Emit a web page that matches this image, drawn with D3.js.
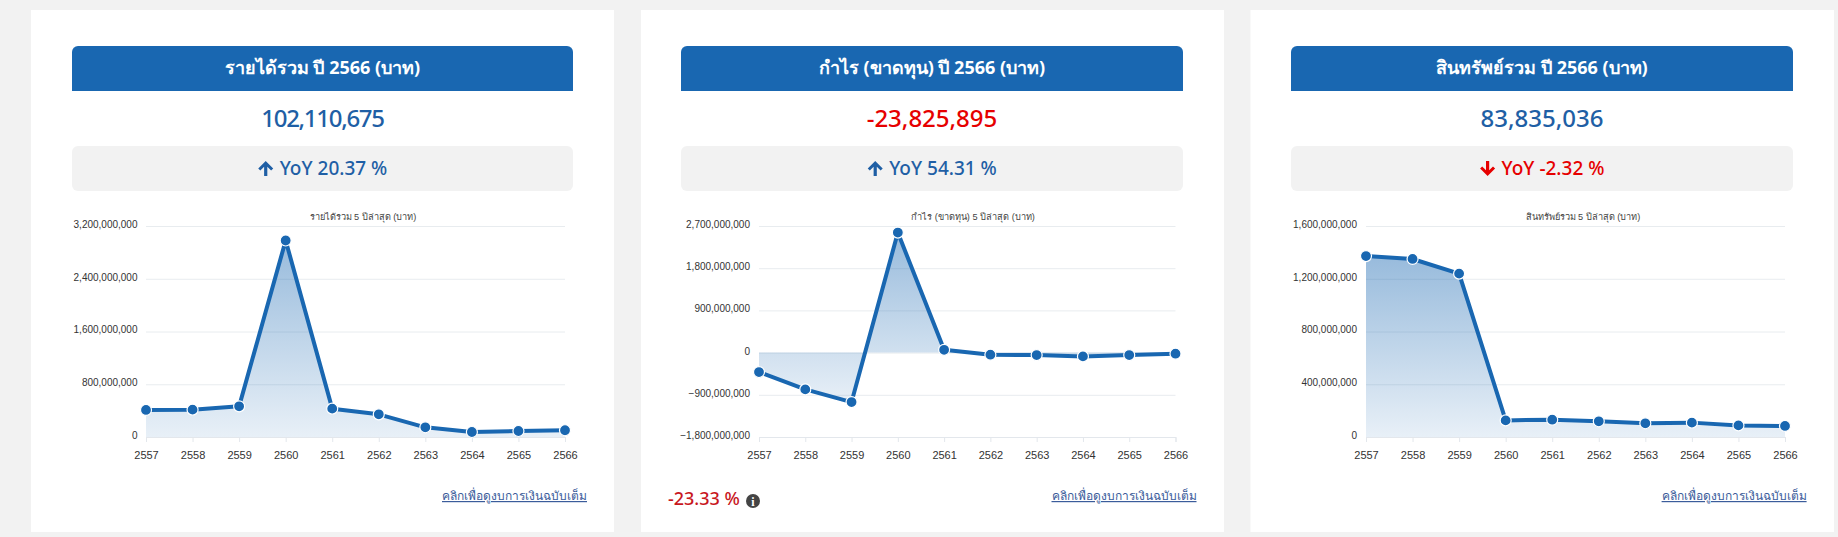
<!DOCTYPE html>
<html><head><meta charset="utf-8">
<script src="https://cdn.jsdelivr.net/npm/d3@7/dist/d3.min.js"></script>
<style>
html,body{margin:0;padding:0;background:#f2f2f2;overflow:hidden}
svg{display:block}
.head{font-family:"Noto Sans","Noto Sans CJK SC",sans-serif;font-weight:700;font-size:18px;fill:#fff}
.big{font-family:"Noto Sans",sans-serif;font-weight:500;font-size:24px}
.yoy{font-family:"Noto Sans",sans-serif;font-weight:500;font-size:19px}
.ctitle{font-family:"Liberation Sans",sans-serif;font-size:9.2px;fill:#444}
.yl .tick text{font-family:"Liberation Sans",Arial,sans-serif;font-size:10px;fill:#333}
.xl .tick text{font-family:"Liberation Sans",Arial,sans-serif;font-size:11px;fill:#333}
.link{font-family:"Noto Sans",sans-serif;font-size:12px;fill:#3b5c9b;text-decoration:underline}
.note{font-family:"Noto Sans",sans-serif;font-weight:500;font-size:18px;fill:#c8171e}
</style></head><body><svg id="c" width="1838" height="537"></svg>
<script>
const categories=["2557","2558","2559","2560","2561","2562","2563","2564","2565","2566"];
const revenueValues=[410000000,415000000,465000000,2980000000,430000000,344000000,147000000,76000000,91000000,102110675];
const profitValues=[-415000000,-785000000,-1055000000,2560000000,60000000,-45000000,-53000000,-81000000,-53000000,-23825895];
const assetValues=[1372000000,1350000000,1239000000,126000000,131000000,119000000,104000000,109000000,88000000,83835036];
const revenueTicks=[0,800000000,1600000000,2400000000,3200000000];
const profitTicks=[-1800000000,-900000000,0,900000000,1800000000,2700000000];
const assetTicks=[0,400000000,800000000,1200000000,1600000000];
const headers=["รายได้รวม ปี 2566 (บาท)","กำไร (ขาดทุน) ปี 2566 (บาท)","สินทรัพย์รวม ปี 2566 (บาท)"];
const bigNumbers=["102,110,675","-23,825,895","83,835,036"];
const yoyTexts=["YoY 20.37 %","YoY 54.31 %","YoY -2.32 %"];
const yoyDirections=["up","up","down"];
const chartTitles=["รายได้รวม 5 ปีล่าสุด (บาท)","กำไร (ขาดทุน) 5 ปีล่าสุด (บาท)","สินทรัพย์รวม 5 ปีล่าสุด (บาท)"];
const linkText="คลิกเพื่อดูงบการเงินฉบับเต็ม";
const noteText="-23.33 %";

const BLUE="#1967b1",TXT="#1f5fa5",RED="#e60000";
const layouts=[
 {card:[31,614],head:[72,573],plot:[146,565],labelX:137.5,titleX:363,linkEnd:587,bigSpacing:-1.3},
 {card:[641,1224],head:[681,1183],plot:[759,1175.5],labelX:750,titleX:973,linkEnd:1196.5,bigSpacing:0},
 {card:[1250.5,1834],head:[1291,1793],plot:[1366,1785],labelX:1357,titleX:1583,linkEnd:1806.6,bigSpacing:0}
];
const series=[revenueValues,profitValues,assetValues];
const ticks=[revenueTicks,profitTicks,assetTicks];
const svg=d3.select("#c");
const defs=svg.append("defs");
const grad=defs.append("linearGradient").attr("id","g").attr("x1",0).attr("y1",0).attr("x2",0).attr("y2",1);
grad.append("stop").attr("offset",0).attr("stop-color",BLUE).attr("stop-opacity",.45);
grad.append("stop").attr("offset",1).attr("stop-color",BLUE).attr("stop-opacity",.1);
const fmt=d3.format(",");
const topY=226,botY=437;

layouts.forEach((L,i)=>{
 const g=svg.append("g");
 const cx=(L.head[0]+L.head[1])/2;
 g.append("rect").attr("x",L.card[0]).attr("y",10).attr("width",L.card[1]-L.card[0]).attr("height",522).attr("fill","#fff");
 const hw=L.head[1]-L.head[0];
 g.append("path").attr("fill",BLUE).attr("d",`M${L.head[0]},91V52a6,6 0 0 1 6,-6H${L.head[1]-6}a6,6 0 0 1 6,6V91Z`);
 g.append("text").attr("class","head").attr("x",cx).attr("y",74).attr("text-anchor","middle").text(headers[i]);
 const neg=bigNumbers[i].startsWith("-");
 g.append("text").attr("class","big").attr("x",cx).attr("y",127).attr("text-anchor","middle").attr("fill",neg?RED:TXT).attr("letter-spacing",L.bigSpacing).text(bigNumbers[i]);
 g.append("rect").attr("x",L.head[0]).attr("y",146).attr("width",hw).attr("height",45).attr("rx",6).attr("fill","#f2f2f2");
 const up=yoyDirections[i]==="up", col=up?TXT:RED;
 const t=g.append("text").attr("class","yoy").attr("x",cx+11).attr("y",175).attr("text-anchor","middle").attr("fill",col).text(yoyTexts[i]);
 const bb=t.node().getBBox();
 g.append("path").attr("fill",col)
  .attr("transform",`translate(${bb.x-14},168.5) scale(1,${up?1:-1})`)
  .attr("d","M0,-7.5L7.5,0L5.4,2.1L1.6,-1.7V7.5H-1.6V-1.7L-5.4,2.1L-7.5,0Z");

 g.append("text").attr("class","ctitle").attr("x",L.titleX).attr("y",220).attr("text-anchor","middle").text(chartTitles[i]);

 const x=d3.scalePoint().domain(categories).range(L.plot);
 const y=d3.scaleLinear().domain(d3.extent(ticks[i])).range([botY,topY]);
 const ya=g.append("g").attr("class","yl").attr("transform",`translate(${L.plot[0]},0)`)
   .call(d3.axisLeft(y).tickValues(ticks[i]).tickSize(0).tickPadding(0).tickFormat(fmt));
 ya.select(".domain").remove();
 ya.selectAll(".tick text").attr("x",L.labelX-L.plot[0]).attr("dy","0.14em");
 ya.selectAll(".tick").append("line").attr("x1",0).attr("x2",L.plot[1]-L.plot[0]).attr("stroke","#e8ecef").attr("stroke-width",1);
 const xa=g.append("g").attr("class","xl").attr("transform",`translate(0,${botY})`)
   .call(d3.axisBottom(x).tickSize(5).tickPadding(9));
 xa.select(".domain").attr("stroke","#e3e7ec").attr("stroke-width",1);
 xa.selectAll(".tick line").attr("stroke","#e3e7ec");
 const pts=categories.map((c,k)=>({c,v:series[i][k]}));
 g.append("path").datum(pts).attr("fill","url(#g)")
  .attr("d",d3.area().x(d=>x(d.c)).y0(y(0)).y1(d=>y(d.v)));
 g.append("path").datum(pts).attr("fill","none").attr("stroke",BLUE).attr("stroke-width",4).attr("stroke-linejoin","round")
  .attr("d",d3.line().x(d=>x(d.c)).y(d=>y(d.v)));
 g.selectAll("circle").data(pts).join("circle").attr("cx",d=>x(d.c)).attr("cy",d=>y(d.v)).attr("r",5.5).attr("fill",BLUE).attr("stroke","#fff").attr("stroke-width",1.2);

 g.append("text").attr("class","link").attr("x",L.linkEnd).attr("y",500).attr("text-anchor","end").text(linkText);
 if(i===1){
  g.append("text").attr("class","note").attr("x",668).attr("y",505).text(noteText);
  g.append("circle").attr("cx",753).attr("cy",501).attr("r",7).attr("fill","#444");
  g.append("text").attr("x",753).attr("y",505.5).attr("text-anchor","middle").attr("fill","#fff").attr("font-family","Liberation Serif,serif").attr("font-weight",700).attr("font-size",12).text("i");
 }
});
</script></body></html>
